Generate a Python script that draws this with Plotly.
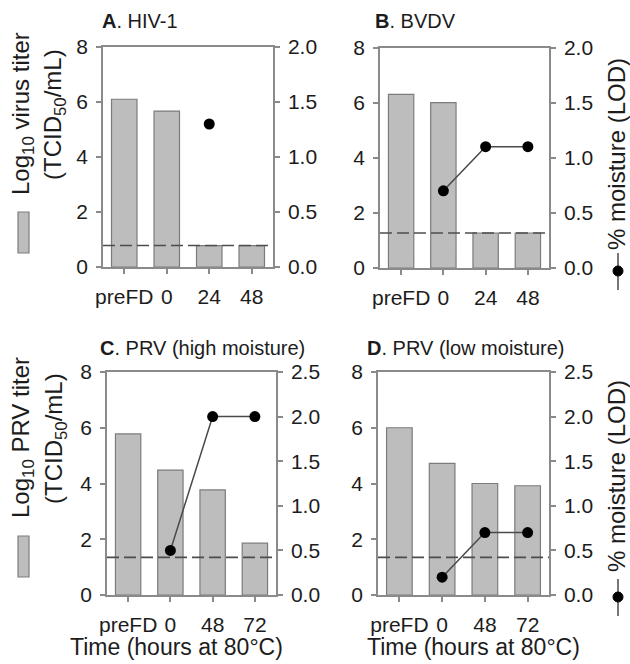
import plotly.graph_objects as go

W, H = 630, 664

# ---------------- data ----------------
categories_top = ["preFD", "0", "24", "48"]
categories_bottom = ["preFD", "0", "48", "72"]

titer_A = [6.1, 5.67, 0.78, 0.78]
titer_B = [6.3, 6.0, 1.27, 1.27]
titer_C = [5.78, 4.48, 3.77, 1.86]
titer_D = [6.0, 4.72, 4.0, 3.92]

moisture_A = [None, None, 1.3, None]
moisture_B = [None, 0.7, 1.1, 1.1]
moisture_C = [None, 0.5, 2.0, 2.0]
moisture_D = [None, 0.2, 0.7, 0.7]

lod_A = 0.78
lod_B = 1.27
lod_C = 1.35
lod_D = 1.35

titles = ["<b>A</b>. HIV-1", "<b>B</b>. BVDV",
          "<b>C</b>. PRV (high moisture)", "<b>D</b>. PRV (low moisture)"]
left_ticks = [0, 2, 4, 6, 8]
right_ticks_top = [0.0, 0.5, 1.0, 1.5, 2.0]
right_ticks_bottom = [0.0, 0.5, 1.0, 1.5, 2.0, 2.5]

panels = [
    dict(cats=categories_top, titer=titer_A, moist=moisture_A, lod=lod_A,
         rticks=right_ticks_top, px=(103, 273), py=(47, 267), tx=100, ty=21),
    dict(cats=categories_top, titer=titer_B, moist=moisture_B, lod=lod_B,
         rticks=right_ticks_top, px=(380, 549), py=(47.5, 268), tx=373, ty=21),
    dict(cats=categories_bottom, titer=titer_C, moist=moisture_C, lod=lod_C,
         rticks=right_ticks_bottom, px=(107, 276), py=(372, 595), tx=98, ty=348),
    dict(cats=categories_bottom, titer=titer_D, moist=moisture_D, lod=lod_D,
         rticks=right_ticks_bottom, px=(378, 549), py=(372, 595), tx=365, ty=348),
]

FONT = "Liberation Sans, Arial, Helvetica, sans-serif"
TXT = "#1c1c1c"
AX = "#8a8a8a"
BAR_FILL = "#bdbdbd"
BAR_LINE = "#7c7c7c"
LINE_C = "#4a4a4a"

fig = go.Figure()
layout = dict(
    template="none",
    width=W, height=H, margin=dict(l=0, r=0, t=0, b=0, pad=0),
    paper_bgcolor="white", plot_bgcolor="white", showlegend=False,
    font=dict(family=FONT, size=20, color=TXT),
)
shapes = []
annotations = []

def px2x(p):
    return p / W

def px2y(p):
    return 1 - p / H

for i, p in enumerate(panels):
    xn = f"x{i+1}" if i else "x"
    yl = f"y{2*i+1}" if i else "y"
    yr = f"y{2*i+2}"
    xkey = f"xaxis{i+1}" if i else "xaxis"
    ylkey = f"yaxis{2*i+1}" if i else "yaxis"
    yrkey = f"yaxis{2*i+2}"
    xs = list(range(len(p["cats"])))

    fig.add_trace(go.Bar(x=xs, y=p["titer"], width=0.6,
                         marker=dict(color=BAR_FILL, line=dict(color=BAR_LINE, width=1.2)),
                         xaxis=xn, yaxis=yl))
    fig.add_trace(go.Scatter(x=xs, y=p["moist"], mode="lines+markers",
                             connectgaps=False,
                             line=dict(color=LINE_C, width=1.5),
                             marker=dict(color="black", size=11),
                             xaxis=xn, yaxis=yr))

    xdom = [px2x(p["px"][0]), px2x(p["px"][1])]
    ydom = [px2y(p["py"][1]), px2y(p["py"][0])]
    layout[xkey] = dict(
        domain=xdom, anchor=yl, range=[-0.5, len(xs) - 0.5], automargin=False,
        tickmode="array", tickvals=xs, ticktext=p["cats"],
        showline=True, linecolor=AX, linewidth=1.5, mirror=True,
        ticks="outside", ticklen=5, tickcolor=AX, tickwidth=1.5,
        showgrid=False, zeroline=False, ticklabelstandoff=5,
        tickfont=dict(size=21),
    )
    layout[ylkey] = dict(
        domain=ydom, anchor=xn, range=[0, 8], tickvals=left_ticks, automargin=False,
        showline=True, linecolor=AX, linewidth=1.5,
        ticks="outside", ticklen=5, tickcolor=AX, tickwidth=1.5,
        showgrid=False, zeroline=False, ticklabelstandoff=4,
        tickfont=dict(size=21),
    )
    layout[yrkey] = dict(
        overlaying=yl, side="right", anchor=xn, range=[0, p["rticks"][-1]],
        tickvals=p["rticks"], tickformat=".1f", automargin=False,
        showline=True, linecolor=AX, linewidth=1.5,
        ticks="outside", ticklen=5, tickcolor=AX, tickwidth=1.5,
        showgrid=False, zeroline=False, ticklabelstandoff=4,
        tickfont=dict(size=21),
    )
    # LOD dashed line
    shapes.append(dict(type="line", xref=f"{xn} domain", yref=yl,
                       x0=0, x1=1, y0=p["lod"], y1=p["lod"],
                       line=dict(color="#4d4d4d", width=1.6, dash="12px,5px"),
                       layer="above"))
    annotations.append(dict(text=titles[i], x=px2x(p["tx"]), y=px2y(p["ty"]),
                            xref="paper", yref="paper", xanchor="left", yanchor="middle",
                            showarrow=False, font=dict(size=20)))

# left axis labels
for (l1, l2, cy1, cy2) in [
    ("Log<sub>10</sub> virus titer", "(TCID<sub>50</sub>/mL)", 114, 115),
    ("Log<sub>10</sub> PRV titer", "(TCID<sub>50</sub>/mL)", 438, 439),
]:
    annotations.append(dict(text=l1, x=px2x(22), y=px2y(cy1), xref="paper", yref="paper",
                            xanchor="center", yanchor="middle", textangle=-90,
                            showarrow=False, font=dict(size=24)))
    annotations.append(dict(text=l2, x=px2x(55), y=px2y(cy2), xref="paper", yref="paper",
                            xanchor="center", yanchor="middle", textangle=-90,
                            showarrow=False, font=dict(size=24)))

# left legend swatches
for (y0, y1) in [(212, 253), (536, 577)]:
    shapes.append(dict(type="rect", xref="paper", yref="paper",
                       x0=px2x(18), x1=px2x(29), y0=px2y(y1), y1=px2y(y0),
                       fillcolor=BAR_FILL, line=dict(color=BAR_LINE, width=1.2)))

# right axis labels + symbols
for (cy, dy) in [(154, 271), (476, 597)]:
    annotations.append(dict(text="% moisture (LOD)", x=px2x(616), y=px2y(cy),
                            xref="paper", yref="paper", xanchor="center", yanchor="middle",
                            textangle=-90, showarrow=False, font=dict(size=24)))
    shapes.append(dict(type="line", xref="paper", yref="paper",
                       x0=px2x(618), x1=px2x(618), y0=px2y(dy - 18), y1=px2y(dy + 19),
                       line=dict(color=LINE_C, width=1.5)))
    shapes.append(dict(type="circle", xref="paper", yref="paper",
                       x0=px2x(613), x1=px2x(623), y0=px2y(dy + 5), y1=px2y(dy - 5),
                       fillcolor="black", line=dict(color="black", width=1)))

# x titles
for cx in [176, 473]:
    annotations.append(dict(text="Time (hours at 80°C)", x=px2x(cx), y=px2y(662),
                            xref="paper", yref="paper", xanchor="center", yanchor="bottom",
                            showarrow=False, font=dict(size=23)))

layout["shapes"] = shapes
layout["annotations"] = annotations
fig.update_layout(**layout)
fig.write_html("out.html", config={"displayModeBar": False},
               post_script="document.body.style.margin='0';document.body.style.overflow='hidden';")
